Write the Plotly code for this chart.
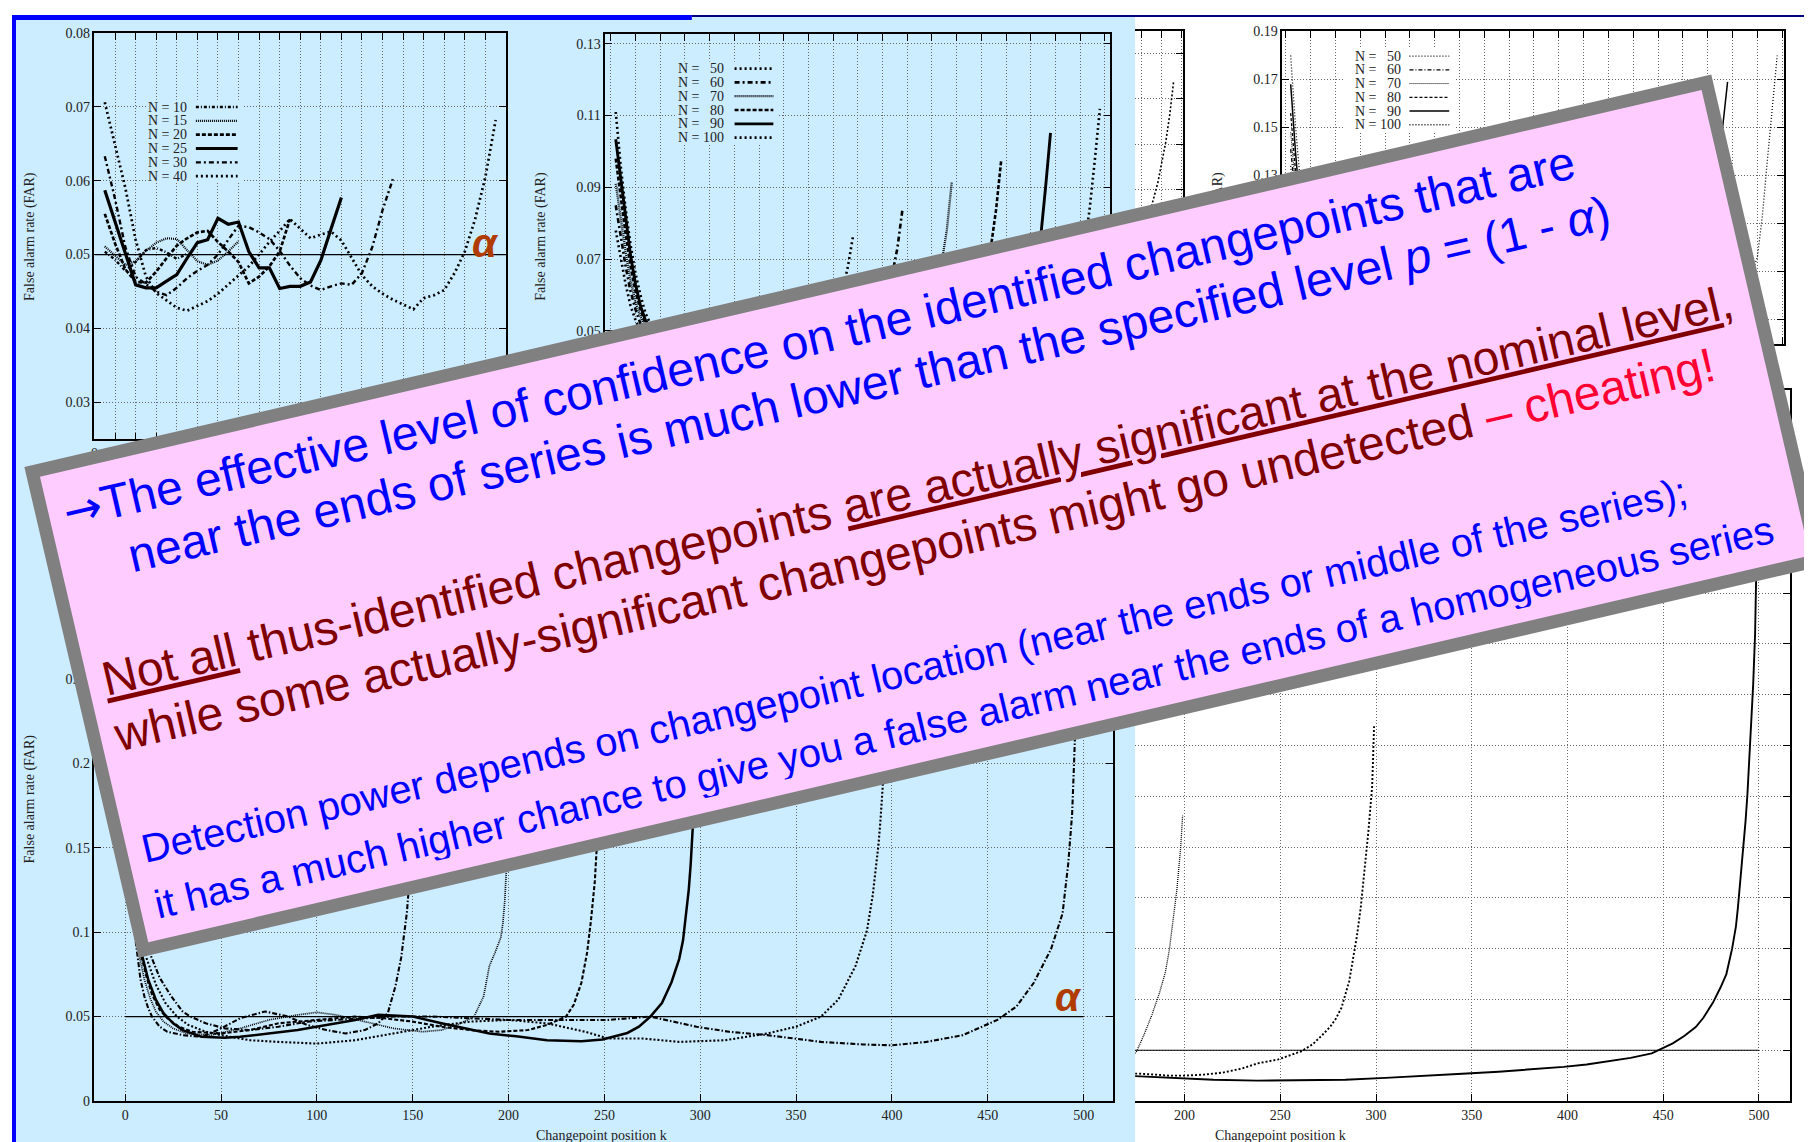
import plotly.graph_objects as go

# ======================= DATA =======================
ALPHA = 0.05

# Panel A (top-left): FAR at k = 1 .. N-1
A_N = [10, 15, 20, 25, 30, 40]
A_FAR_N10 = [0.0504, 0.0493, 0.0478, 0.0490, 0.0506, 0.0509, 0.0503, 0.0494, 0.0501]
A_FAR_N15 = [0.0511, 0.0498, 0.0486, 0.0491, 0.0505, 0.0516, 0.0522, 0.0521, 0.0506, 0.0491,
             0.0486, 0.0492, 0.0504, 0.0518]
A_FAR_N20 = [0.0555, 0.0515, 0.0480, 0.0463, 0.0462, 0.0477, 0.0495, 0.0512, 0.0522, 0.0530,
             0.0532, 0.0517, 0.0504, 0.0490, 0.0461, 0.0470, 0.0484, 0.0504, 0.0548]
A_FAR_N25 = [0.0587, 0.0545, 0.0500, 0.0459, 0.0455, 0.0455, 0.0464, 0.0473, 0.0495, 0.0516,
             0.0520, 0.0549, 0.0541, 0.0544, 0.0504, 0.0482, 0.0482, 0.0454, 0.0457, 0.0457,
             0.0463, 0.0492, 0.0535, 0.0577]
A_FAR_N30 = [0.0633, 0.0575, 0.0510, 0.0470, 0.0460, 0.0450, 0.0445, 0.0455, 0.0468, 0.0478,
             0.0486, 0.0500, 0.0520, 0.0539, 0.0537, 0.0530, 0.0521, 0.0505, 0.0485, 0.0468,
             0.0458, 0.0452, 0.0457, 0.0461, 0.0459, 0.0475, 0.0510, 0.0560, 0.0602]
A_FAR_N40 = [0.0706, 0.0650, 0.0590, 0.0520, 0.0470, 0.0448, 0.0438, 0.0428, 0.0424, 0.0430,
             0.0437, 0.0447, 0.0459, 0.0471, 0.0484, 0.0500, 0.0517, 0.0532, 0.0548, 0.0535,
             0.0522, 0.0527, 0.0531, 0.0519, 0.0495, 0.0472, 0.0457, 0.0447, 0.0439, 0.0432,
             0.0426, 0.0441, 0.0445, 0.0452, 0.0475, 0.0504, 0.0548, 0.0605, 0.0682]

# Panel B (top-middle): (k, FAR)
B_N = [50, 60, 70, 80, 90, 100]
B_N50 = [(1,0.078),(2,0.070),(3,0.063),(4,0.057),(5,0.053),(6,0.050),(7,0.048),(9,0.047),(12,0.049),
         (16,0.052),(20,0.054),(24,0.055),(28,0.053),(32,0.050),(36,0.048),(40,0.047),(43,0.049),
         (45,0.053),(47,0.0619),(48,0.068),(49,0.0762)]
B_N60 = [(1,0.085),(2,0.076),(3,0.068),(4,0.061),(5,0.056),(6,0.052),(7,0.049),(9,0.047),(13,0.046),
         (18,0.048),(24,0.051),(30,0.052),(36,0.050),(42,0.047),(48,0.046),(52,0.048),(54,0.052),
         (56,0.059),(57,0.0656),(58,0.073),(59,0.0835)]
B_N70 = [(1,0.091),(2,0.081),(3,0.072),(4,0.064),(5,0.058),(6,0.054),(7,0.051),(8,0.049),(10,0.047),
         (15,0.046),(22,0.049),(30,0.052),(38,0.051),(46,0.048),(54,0.046),(60,0.047),(62,0.050),
         (64,0.056),(66,0.064),(67,0.0693),(68,0.078),(69,0.0913)]
B_N80 = [(1,0.098),(2,0.087),(3,0.077),(4,0.068),(5,0.061),(6,0.056),(7,0.052),(8,0.049),(10,0.047),
         (16,0.045),(24,0.047),(32,0.050),(40,0.051),(48,0.049),(56,0.047),(64,0.046),(70,0.049),
         (73,0.056),(75,0.063),(77,0.074),(78,0.084),(79,0.0973)]
B_N90 = [(1,0.1034),(2,0.093),(3,0.082),(4,0.071),(5,0.063),(6,0.057),(7,0.053),(8,0.051),(9,0.049),
         (11,0.047),(18,0.045),(27,0.047),(36,0.050),(45,0.051),(54,0.049),(63,0.047),(72,0.046),
         (79,0.048),(82,0.052),(84,0.059),(85,0.064),(86,0.070),(87,0.076),(88,0.090),(89,0.1052)]
B_N100 = [(1,0.111),(2,0.096),(3,0.084),(4,0.074),(5,0.066),(6,0.060),(7,0.055),(8,0.052),(9,0.050),
          (10,0.048),(12,0.046),(20,0.045),(30,0.047),(40,0.050),(50,0.051),(60,0.049),(70,0.047),
          (80,0.046),(88,0.048),(91,0.051),(93,0.056),(94,0.060),(95,0.066),(96,0.074),(97,0.085),
          (98,0.098),(99,0.1119)]

# Panel C (partly hidden panel): (k, FAR)
C_FAR = [(88,0.085),(90,0.091),(92,0.100),(94,0.113),(96,0.131),(97,0.143),(98,0.158)]

# Panel D (top-right): (k, FAR)
D_N = [50, 60, 70, 80, 90, 100]
D_N50 = [(1,0.134),(2,0.115),(3,0.100),(4,0.090),(6,0.080),(9,0.075),(14,0.072),(20,0.071),(28,0.071),
         (36,0.073),(42,0.077),(45,0.083),(47,0.092),(48,0.102),(49,0.115)]
D_N60 = [(1,0.141),(2,0.120),(3,0.104),(4,0.093),(6,0.082),(9,0.076),(14,0.073),(22,0.071),(32,0.071),
         (42,0.073),(50,0.077),(54,0.084),(57,0.096),(58,0.108),(59,0.124)]
D_N70 = [(1,0.148),(2,0.125),(3,0.108),(4,0.096),(6,0.084),(9,0.077),(15,0.073),(25,0.071),(37,0.071),
         (49,0.073),(58,0.077),(63,0.085),(66,0.098),(68,0.116),(69,0.135)]
D_N80 = [(1,0.156),(2,0.131),(3,0.112),(4,0.099),(6,0.086),(10,0.078),(17,0.073),(28,0.071),(42,0.071),
         (56,0.073),(66,0.078),(72,0.087),(76,0.104),(78,0.126),(79,0.150)]
D_N90 = [(1,0.168),(2,0.139),(3,0.115),(4,0.100),(6,0.087),(10,0.078),(18,0.073),(32,0.071),(48,0.071),
         (64,0.073),(76,0.079),(80,0.085),(83,0.098),(85,0.112),(86,0.122),(87,0.135),(88,0.150),(89,0.169)]
D_N100 = [(1,0.180),(2,0.150),(3,0.126),(4,0.108),(6,0.091),(10,0.080),(18,0.074),(32,0.071),(50,0.071),
          (68,0.072),(82,0.076),(90,0.082),(93,0.087),(94,0.090),(95,0.096),(96,0.113),(97,0.136),
          (98,0.157),(99,0.180)]

# Panel E (bottom-right): (k, FAR)
E_N = [200, 300, 500]
E_N200 = [(170,0.038),(175,0.049),(179,0.066),(183,0.085),(187,0.107),(190,0.127),(192,0.148),
          (194,0.178),(196,0.208),(198,0.250),(199,0.281)]
E_N300 = [(170,0.027),(176,0.027),(185,0.026),(192,0.025),(200,0.025),(210,0.026),(220,0.028),
          (230,0.032),(238,0.037),(249,0.041),(261,0.049),(267,0.056),(272,0.065),(276,0.073),
          (279,0.081),(282,0.092),(284,0.105),(286,0.118),(288,0.140),(290,0.162),(292,0.190),
          (294,0.225),(296,0.265),(298,0.310),(299,0.369)]
E_N500 = [(170,0.0249),(200,0.0225),(215,0.0209),(238,0.0201),(260,0.0205),(284,0.0209),(305,0.0228),
          (329,0.0249),(345,0.0268),(364,0.0289),(380,0.0310),(398,0.0336),(410,0.0360),(421,0.0389),
          (433,0.0425),(444,0.0469),(455,0.0568),(461,0.0640),(467,0.0729),(471,0.0820),(476,0.0969),
          (480,0.112),(483,0.125),(486,0.150),(488,0.172),(489,0.190),(490,0.210),(491,0.228),
          (492,0.250),(493,0.275),(494,0.302),(495,0.335),(496,0.370),(497,0.410),(498,0.460),(499,0.560)]

# Panel F (bottom-left): (k, FAR)
F_N = [150, 200, 250, 300, 400, 500]
F_N150 = [(1,0.200),(2,0.150),(3,0.125),(4,0.108),(6,0.090),(8,0.072),(10,0.062),(12,0.055),(14,0.050),
          (18,0.044),(22,0.041),(30,0.039),(40,0.038),(50,0.043),(60,0.049),(73,0.053),(85,0.050),
          (95,0.045),(105,0.042),(115,0.040),(125,0.042),(132,0.046),(137,0.052),(139,0.060),
          (141,0.068),(144,0.085),(146,0.101),(147,0.112),(148,0.127),(149,0.155)]
F_N200 = [(1,0.210),(2,0.160),(3,0.130),(5,0.103),(7,0.088),(10,0.072),(13,0.061),(16,0.053),(20,0.047),
          (25,0.043),(32,0.040),(45,0.039),(60,0.043),(75,0.048),(90,0.051),(100,0.0525),(110,0.051),
          (125,0.047),(140,0.043),(155,0.041),(165,0.042),(175,0.046),(182,0.050),(187,0.062),
          (190,0.080),(193,0.088),(196,0.097),(197,0.105),(198,0.118),(199,0.140)]
F_N250 = [(1,0.220),(2,0.165),(3,0.135),(5,0.108),(8,0.088),(11,0.074),(14,0.063),(18,0.054),(22,0.049),
          (28,0.044),(35,0.041),(50,0.040),(65,0.042),(80,0.046),(100,0.048),(120,0.050),(135,0.049),
          (150,0.047),(165,0.044),(180,0.042),(195,0.041),(210,0.042),(220,0.045),(226,0.048),
          (230,0.050),(234,0.057),(238,0.070),(241,0.088),(243,0.107),(245,0.130),(246,0.151),
          (248,0.190),(249,0.220)]
F_N300 = [(1,0.230),(2,0.170),(3,0.140),(5,0.112),(8,0.090),(12,0.072),(16,0.060),(20,0.052),(25,0.046),
          (30,0.042),(40,0.038),(52,0.0374),(60,0.038),(75,0.040),(90,0.042),(105,0.045),(120,0.048),
          (132,0.051),(150,0.050),(165,0.046),(176,0.0432),(190,0.040),(204,0.0383),(220,0.036),
          (238,0.0354),(249,0.0364),(262,0.0403),(268,0.044),(274,0.050),(280,0.058),(285,0.0703),
          (289,0.084),(291,0.095),(293,0.115),(294,0.125),(295,0.140),(296,0.158),(297,0.180),
          (298,0.210),(299,0.260)]
F_N400 = [(1,0.240),(2,0.175),(4,0.128),(7,0.102),(11,0.085),(16,0.069),(21,0.058),(27,0.050),(33,0.045),
          (42,0.041),(50,0.039),(65,0.036),(80,0.035),(100,0.034),(120,0.036),(140,0.040),(160,0.044),
          (180,0.047),(200,0.048),(220,0.046),(240,0.041),(252,0.037),(270,0.037),(289,0.035),
          (313,0.036),(335,0.040),(350,0.044),(363,0.050),(372,0.060),(381,0.080),(387,0.101),
          (390,0.122),(392,0.140),(393,0.152),(394,0.166),(395,0.182),(396,0.200),(397,0.222),
          (398,0.255),(399,0.300)]
F_N500 = [(1,0.250),(2,0.180),(4,0.133),(8,0.105),(12,0.090),(18,0.073),(24,0.062),(30,0.053),(34,0.050),
          (42,0.046),(52,0.043),(65,0.042),(80,0.044),(95,0.047),(110,0.048),(125,0.049),(140,0.050),
          (160,0.050),(180,0.049),(200,0.048),(220,0.048),(240,0.048),(252,0.048),(274,0.050),
          (298,0.044),(315,0.041),(335,0.039),(363,0.035),(385,0.0335),(400,0.033),(418,0.035),
          (437,0.039),(455,0.048),(465,0.056),(474,0.070),(483,0.090),(489,0.111),(492,0.141),
          (494,0.170),(495,0.200),(496,0.230),(497,0.265),(498,0.310),(499,0.370)]

# Alpha reference line extents (k)
A_ALPHA_K = [0, 40]
B_ALPHA_K = [0, 100]
E_ALPHA_K = [0, 500]
F_ALPHA_K = [0, 500]

Y_TITLE = "False alarm rate (FAR)"
X_TITLE = "Changepoint position k"

# ======================= STYLES / LAYOUT =======================
W, H = 1812, 1142
def px(x): return x / W
def py(y): return 1 - y / H

LIGHT = "#ccecff"
SERIF = "Liberation Serif, Times New Roman, serif"
SANS = "Liberation Sans, Arial, sans-serif"

DOT = "2px,3px"
FINE = "1px,1px"
DASH = "4px,2px"
DASHDOT = "5px,3px,2px,3px"
DASHDOT2 = "3px,2px,1px,2px"

A_STYLE = {10: (DASHDOT2, 2.4), 15: (FINE, 2.2), 20: (DASH, 2.7), 25: ("solid", 3.2),
           30: (DASHDOT, 2.4), 40: (DOT, 2.7)}
B_STYLE = {50: (DOT, 2.6), 60: (DASHDOT, 2.6), 70: (FINE, 2.3), 80: (DASH, 2.6),
           90: ("solid", 2.9), 100: (DOT, 2.6)}
D_STYLE = {50: ("1px,2px", 1.3), 60: ("4px,2px,1px,2px", 1.3), 70: ("1px,1px", 1.0),
           80: ("3px,2px", 1.3), 90: ("solid", 1.5), 100: ("1px,2px", 1.3)}
E_STYLE = {200: ("1px,1px", 1.3), 300: ("2px,2px", 1.9), 500: ("solid", 1.9)}
F_STYLE = {150: ("5px,2px,1.5px,2px", 2.1), 200: ("1px,1px", 1.7), 250: ("4px,2px", 2.1),
           300: ("solid", 2.5), 400: ("2px,2px", 2.1), 500: ("5px,2px,1.5px,2px", 2.1)}

fig = go.Figure()

def add_line(k, v, ax, dash, width):
    fig.add_trace(go.Scatter(x=k, y=v, mode="lines", xaxis="x" + ax, yaxis="y" + ax,
                             line=dict(color="black", width=width, dash=dash),
                             hoverinfo="skip", showlegend=False))

def add_pairs(pairs, ax, style):
    add_line([p[0] for p in pairs], [p[1] for p in pairs], ax, style[0], style[1])

# A
for n, vals in zip(A_N, [A_FAR_N10, A_FAR_N15, A_FAR_N20, A_FAR_N25, A_FAR_N30, A_FAR_N40]):
    add_line(list(range(1, len(vals) + 1)), vals, "", A_STYLE[n][0], A_STYLE[n][1])
add_line(A_ALPHA_K, [ALPHA, ALPHA], "", "solid", 1.2)
# B
for n, pairs in zip(B_N, [B_N50, B_N60, B_N70, B_N80, B_N90, B_N100]):
    add_pairs(pairs, "2", B_STYLE[n])
add_line(B_ALPHA_K, [ALPHA, ALPHA], "2", "solid", 1.2)
# C
add_pairs(C_FAR, "3", ("2px,2px", 1.6))
# D
for n, pairs in zip(D_N, [D_N50, D_N60, D_N70, D_N80, D_N90, D_N100]):
    add_pairs(pairs, "4", D_STYLE[n])
# E
for n, pairs in zip(E_N, [E_N200, E_N300, E_N500]):
    add_pairs(pairs, "5", E_STYLE[n])
add_line(E_ALPHA_K, [ALPHA, ALPHA], "5", "solid", 1.2)
# F
for n, pairs in zip(F_N, [F_N150, F_N200, F_N250, F_N300, F_N400, F_N500]):
    add_pairs(pairs, "6", F_STYLE[n])
add_line(F_ALPHA_K, [ALPHA, ALPHA], "6", "solid", 1.2)

def ax(**kw):
    d = dict(showline=True, linecolor="black", linewidth=1.5, mirror="allticks",
             ticks="inside", ticklen=7, tickwidth=1, tickcolor="black",
             showgrid=True, gridcolor="#666666", gridwidth=1, griddash="1px,2px",
             zeroline=False, tickfont=dict(family=SERIF, size=14, color="#222222"))
    d.update(kw)
    return d

fig.update_layout(
    width=W, height=H, margin=dict(l=0, r=0, t=0, b=0),
    paper_bgcolor="white", plot_bgcolor="rgba(0,0,0,0)", showlegend=False,
    xaxis=ax(domain=[px(83), px(497)], range=[0, 40], dtick=2, anchor="y"),
    yaxis=ax(domain=[py(430), py(18)], range=[0.025, 0.08], dtick=0.01, tickformat=".2f", anchor="x"),
    xaxis2=ax(domain=[px(597), px(1105)], range=[-1.1, 101.1], dtick=5, anchor="y2"),
    yaxis2=ax(domain=[py(430), py(19)], range=[0.0198, 0.1328], tick0=0.01, dtick=0.02,
              tickformat=".2f", anchor="x2"),
    xaxis3=ax(domain=[px(1130), px(1178)], range=[88.3, 100.3], dtick=5, anchor="y3",
              showticklabels=False),
    yaxis3=ax(domain=[py(335), py(16)], range=[0.0413, 0.18], tick0=0.01, dtick=0.02, anchor="x3",
              side="right", mirror=False, showticklabels=False),
    xaxis4=ax(domain=[px(1278), px(1783)], range=[-0.7, 100.4], dtick=5, anchor="y4",
              showticklabels=False),
    yaxis4=ax(domain=[py(333), py(16.7)], range=[0.06, 0.19], tick0=0.01, dtick=0.02,
              tickformat=".2f", anchor="x4"),
    xaxis5=ax(domain=[px(1130), px(1788.6)], range=[174.2, 516.1], dtick=50, anchor="y5"),
    yaxis5=ax(domain=[py(1100.5), py(380)], range=[0, 0.7], dtick=0.05, anchor="x5",
              side="right", mirror=False, showticklabels=False),
    xaxis6=ax(domain=[px(83), px(1107.5)], range=[-16, 515.2], dtick=50, anchor="y6"),
    yaxis6=ax(domain=[py(1100.5), py(467)], range=[0, 0.37], dtick=0.05, anchor="x6"),
)

shapes = []
def rect(x0, y0, x1, y1, color, layer="above"):
    shapes.append(dict(type="rect", xref="paper", yref="paper", x0=px(x0), x1=px(x1),
                       y0=py(y1), y1=py(y0), fillcolor=color, line=dict(width=0), layer=layer))

rect(0, 0, 1130, H, LIGHT, layer="below")
rect(0, 0, 4, H, "#0000ff")
rect(0, 0, 684, 5, "#0000ff")
rect(684, 0, W, 2, "#000080")

annotations = []
def text(x, y, s, size=14, family=SERIF, color="#222222", xanchor="center", yanchor="middle", angle=0):
    annotations.append(dict(x=px(x), y=py(y), xref="paper", yref="paper", text=s, showarrow=False,
                            xanchor=xanchor, yanchor=yanchor, textangle=angle,
                            font=dict(family=family, size=size, color=color)))

def key(ns, styles, box, text_right, x0, x1, y_first, step, bg, wscale=1.0, pad_numbers=False):
    rect(box[0], box[1], box[2], box[3], bg)
    for i, n in enumerate(ns):
        y = y_first + step * i
        dash, w = styles[n]
        shapes.append(dict(type="line", xref="paper", yref="paper", x0=px(x0), x1=px(x1),
                           y0=py(y), y1=py(y), layer="above",
                           line=dict(color="black", width=w * wscale, dash=dash)))
        label = str(n)
        if pad_numbers and len(label) < 3:
            label = "\u00a0\u00a0" + label
        text(text_right, y, "N = " + label, xanchor="right")

key(A_N, A_STYLE, (137, 86, 233, 170), 178, 185, 227, 93.3, 14.0, LIGHT)
key(B_N, B_STYLE, (668, 47, 770, 131), 718.5, 727, 766, 54.3, 14.0, LIGHT, pad_numbers=True)
key(D_N, D_STYLE, (1340, 33, 1452, 119), 1399, 1406, 1446, 41.7, 13.9, "white", pad_numbers=True)

# axis titles
text(18, 224, Y_TITLE, angle=-90)
text(532, 224, Y_TITLE, angle=-90)
text(1213, 224, Y_TITLE, angle=-90)
text(18, 794, Y_TITLE, angle=-90)
text(593, 1135, X_TITLE)
text(1276, 1135, X_TITLE)

# alpha labels
text(476, 231, "<b><i>α</i></b>", size=40, family=SANS, color="#b03c00")
text(1063, 995, "<b><i>α</i></b>", size=40, family=SANS, color="#b03c00")

# the rotated pink note
B48 = "<span style='font-size:48px'>"
R48 = "<span style='font-size:48px;color:#800000'>"
C48 = "<span style='font-size:48px;color:#ff0033'>"
B40 = "<span style='font-size:40px'>"
NB = "\u00a0"
pink = (
    "<span style='font-family:DejaVu Sans;font-size:46px'>→</span>" + B48 + "The effective level of confidence on the identified changepoints that are</span>"
    "<br>" + B48 + NB * 4 + "near the ends of series is much lower than the specified level <i>p</i> = (1 - <i>α</i>)</span>"
    "<br><br>"
    + R48 + "<u>Not all</u> thus-identified changepoints <u>are actually significant at the nominal level</u>,</span>"
    "<br>" + R48 + "while some actually-significant changepoints might go undetected </span>" + C48 + "– cheating!</span>"
    "<br><br>"
    + B40 + "Detection power depends on changepoint location (near the ends or middle of the series);</span>"
    "<br>" + B40 + "it has a much higher chance to give you a false alarm near the ends of a homogeneous series</span>"
)
annotations.append(dict(
    x=px(919), y=py(508), xref="paper", yref="paper", xanchor="center", yanchor="middle",
    text=pink, showarrow=False, textangle=-13.1, align="left", valign="top",
    width=1732 - 54, height=504 - 54, bgcolor="#ffccff", bordercolor="#808080",
    borderwidth=13, borderpad=14, font=dict(family=SANS, size=44, color="#0000ff")))

fig.update_layout(shapes=shapes, annotations=annotations)
fig.write_html("out.html")
